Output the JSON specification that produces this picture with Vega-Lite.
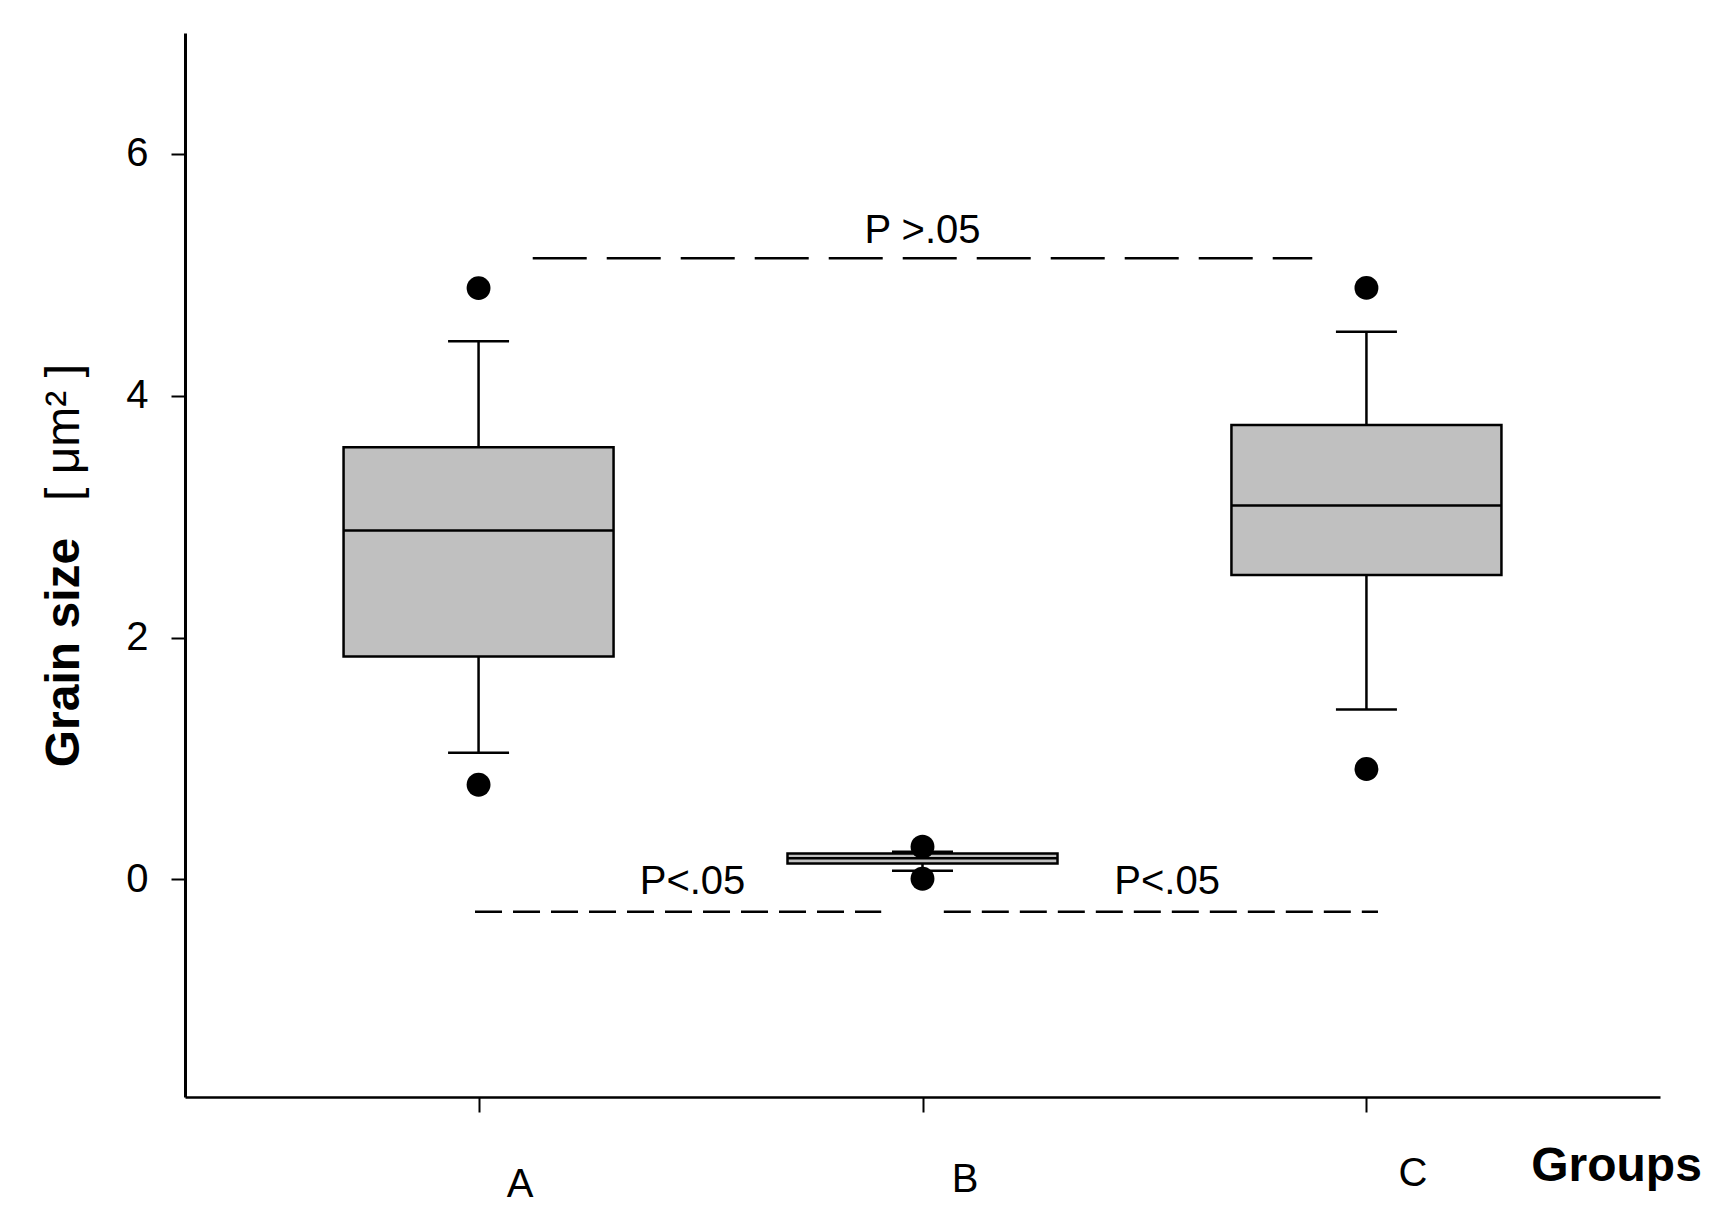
{
  "$schema": "https://vega.github.io/schema/vega-lite/v6.json",
  "width": 1475,
  "height": 1064,
  "autosize": {"type": "none"},
  "padding": {"left": 185, "top": 33, "right": 61, "bottom": 123},
  "background": "white",
  "config": {
    "view": {"stroke": null},
    "font": "Liberation Sans",
    "axis": {"grid": false, "labelFont": "Liberation Sans", "titleFont": "Liberation Sans", "labelColor": "black", "titleColor": "black", "domainColor": "black", "tickColor": "black"}
  },
  "datasets": {
    "boxes": [
      {"group": 1, "lo": 1.048, "q1": 1.843, "median": 2.886, "q3": 3.573, "hi": 4.45},
      {"group": 2, "lo": 0.071, "q1": 0.132, "median": 0.175, "q3": 0.214, "hi": 0.228},
      {"group": 3, "lo": 1.405, "q1": 2.517, "median": 3.093, "q3": 3.757, "hi": 4.529}
    ],
    "outliers": [
      {"group": 1, "value": 4.89},
      {"group": 1, "value": 0.783},
      {"group": 2, "value": 0.27},
      {"group": 2, "value": 0.005},
      {"group": 3, "value": 4.892},
      {"group": 3, "value": 0.913}
    ],
    "longdash": [{"group": 1.122, "group2": 2.878, "y": 5.137}],
    "shortdash": [
      {"group": 0.992, "group2": 1.907, "y": -0.267},
      {"group": 2.048, "group2": 3.026, "y": -0.267}
    ],
    "labels": [
      {"group": 2.0, "y": 5.26, "text": "P >.05"},
      {"group": 1.482, "y": -0.119, "text": "P<.05"},
      {"group": 2.551, "y": -0.119, "text": "P<.05"}
    ]
  },
  "resolve": {"axis": {"y": "independent"}},
  "layer": [
    {
      "data": {"name": "boxes"},
      "mark": {"type": "rule", "color": "black", "strokeWidth": 2.5},
      "encoding": {
        "x": {"field": "group", "type": "quantitative", "title": "Groups", "scale": {"domain": [0.35, 3.65], "nice": false, "zero": false},
          "axis": {
            "values": [1, 2, 3],
            "labelExpr": "datum.value == 1 ? 'A' : datum.value == 2 ? 'B' : 'C'",
            "title": "Groups",
            "titleFontSize": 48, "titleFontWeight": "bold",
            "titleX": 1431, "titleY": 83, "titleAlign": "center", "titleBaseline": "alphabetic", "titleAnchor": null,
            "labelFontSize": 40, "labelFontWeight": "normal",
            "labelBaseline": "alphabetic",
            "labelAlign": "center",
            "labelOffset": {"condition": [{"test": "datum.value == 1", "value": 41}, {"test": "datum.value == 3", "value": 46}], "value": 42},
            "labelPadding": {"condition": [{"test": "datum.value == 1", "value": 84}, {"test": "datum.value == 3", "value": 73}], "value": 79},
            "tickSize": 15, "tickWidth": 2, "domainWidth": 2.5, "labelFlush": false, "labelOverlap": false
          }
        },
        "y": {"field": "lo", "type": "quantitative", "scale": {"domain": [-1.8, 7], "nice": false, "zero": false}, "axis": null},
        "y2": {"field": "hi"}
      }
    },
    {
      "data": {"name": "boxes"},
      "mark": {"type": "bar", "width": 270, "fill": "#c0c0c0", "stroke": "black", "strokeWidth": 2.5},
      "encoding": {
        "x": {"field": "group", "type": "quantitative", "title": "Groups"},
        "y": {"field": "q1", "type": "quantitative",
          "axis": {
            "title": "Grain size",
            "values": [0, 2, 4, 6],
            "titleFontSize": 48, "titleFontWeight": "bold",
            "titleAngle": 270, "titleX": -107, "titleY": 619, "titleAlign": "center", "titleBaseline": "alphabetic", "titleAnchor": null,
            "labelFontSize": 40, "labelPadding": 23, "labelBaseline": "middle",
            "tickSize": 14, "tickWidth": 2, "domainWidth": 3, "labelFlush": false
          }
        },
        "y2": {"field": "q3"}
      }
    },
    {
      "data": {"name": "boxes"},
      "mark": {"type": "tick", "orient": "horizontal", "size": 270, "thickness": 2.5, "color": "black", "opacity": 1},
      "encoding": {
        "x": {"field": "group", "type": "quantitative", "title": "Groups"},
        "y": {"field": "median", "type": "quantitative", "axis": null}
      }
    },
    {
      "data": {"name": "boxes"},
      "mark": {"type": "tick", "orient": "horizontal", "size": 61, "thickness": 2.5, "color": "black", "opacity": 1},
      "encoding": {
        "x": {"field": "group", "type": "quantitative", "title": "Groups"},
        "y": {"field": "hi", "type": "quantitative", "axis": null}
      }
    },
    {
      "data": {"name": "boxes"},
      "mark": {"type": "tick", "orient": "horizontal", "size": 61, "thickness": 2.5, "color": "black", "opacity": 1},
      "encoding": {
        "x": {"field": "group", "type": "quantitative", "title": "Groups"},
        "y": {"field": "lo", "type": "quantitative", "axis": null}
      }
    },
    {
      "data": {"name": "outliers"},
      "mark": {"type": "point", "filled": true, "shape": "circle", "size": 570, "color": "black", "opacity": 1},
      "encoding": {
        "x": {"field": "group", "type": "quantitative", "title": "Groups"},
        "y": {"field": "value", "type": "quantitative", "axis": null}
      }
    },
    {
      "data": {"name": "longdash"},
      "mark": {"type": "rule", "color": "black", "strokeWidth": 2.5, "strokeDash": [54, 20]},
      "encoding": {
        "x": {"field": "group", "type": "quantitative", "title": "Groups"},
        "x2": {"field": "group2"},
        "y": {"field": "y", "type": "quantitative", "axis": null}
      }
    },
    {
      "data": {"name": "shortdash"},
      "mark": {"type": "rule", "color": "black", "strokeWidth": 2.5, "strokeDash": [27, 11]},
      "encoding": {
        "x": {"field": "group", "type": "quantitative", "title": "Groups"},
        "x2": {"field": "group2"},
        "y": {"field": "y", "type": "quantitative", "axis": null}
      }
    },
    {
      "data": {"name": "labels"},
      "mark": {"type": "text", "fontSize": 40, "font": "Liberation Sans", "align": "center", "baseline": "alphabetic", "color": "black"},
      "encoding": {
        "x": {"field": "group", "type": "quantitative", "title": "Groups"},
        "y": {"field": "y", "type": "quantitative",
          "axis": {
            "orient": "left",
            "title": "[ μm² ]",
            "labels": false, "ticks": false, "domain": false,
            "titleFontSize": 48, "titleFontWeight": "normal",
            "titleAngle": 270, "titleX": -107, "titleY": 399, "titleAlign": "center", "titleBaseline": "alphabetic", "titleAnchor": null
          }
        },
        "text": {"field": "text"}
      }
    }
  ]
}
